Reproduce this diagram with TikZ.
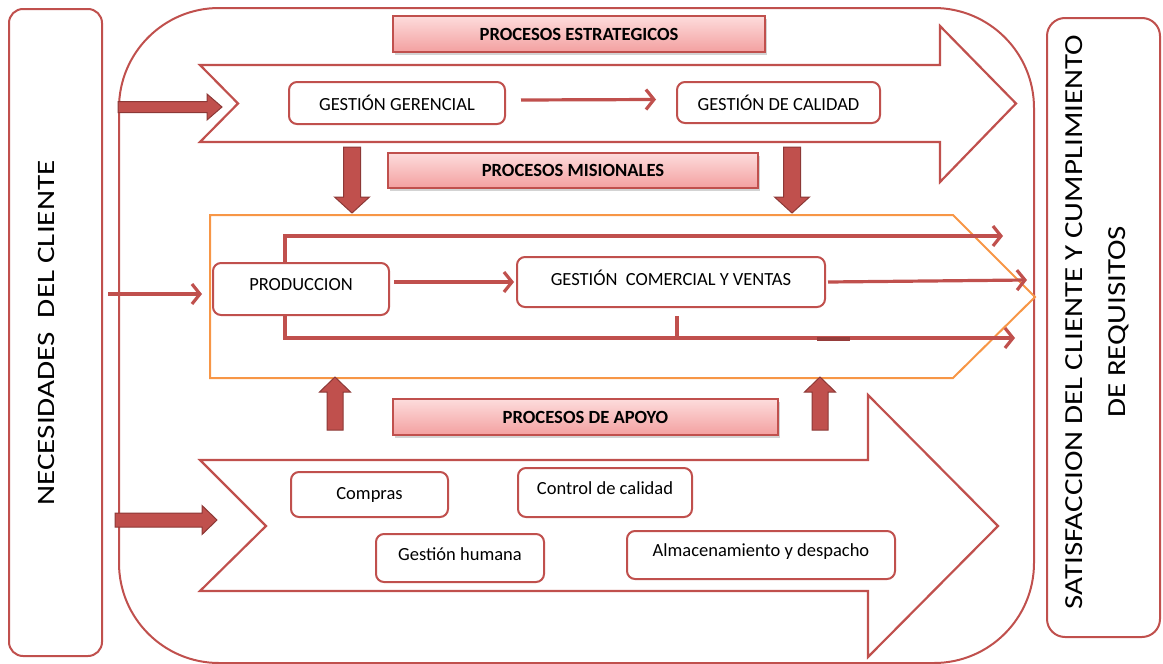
\documentclass[tikz,border=0pt]{standalone}
\usepackage{fontspec}
\setmainfont{Carlito}
\usetikzlibrary{arrows.meta,shadows}
\definecolor{rd}{HTML}{C0504D}
\definecolor{rddark}{HTML}{8C3836}
\definecolor{orng}{HTML}{F79646}
\definecolor{pinktop}{HTML}{FDDCDC}
\definecolor{pinkbot}{HTML}{F3A0A0}
\tikzset{
  frame/.style={draw=rd,line width=2pt,rounded corners=14pt},
  chev/.style={draw=rd,line width=2.2pt,fill=white,line join=miter},
  proc/.style={draw=rd,line width=2pt,rounded corners=8pt,fill=white,font=\fontsize{18.5}{22}\selectfont,inner sep=0pt},
  banner/.style={draw=rd,line width=1.2pt,top color=pinktop,bottom color=pinkbot,
     font=\fontsize{18.6}{22}\selectfont\bfseries,inner sep=0pt,
     drop shadow={opacity=0.35,shadow xshift=2pt,shadow yshift=-2.5pt}},
  conn/.style={draw=rd,line width=3.2pt,-{Straight Barb[length=8pt,width=20pt,line width=3.2pt]}},
  plain/.style={draw=rd,line width=3.2pt},
  block/.style={fill=rd,draw=rddark,line width=1pt,line join=miter},
}
\begin{document}
\begin{tikzpicture}[x=1pt,y=-1pt]
\useasboundingbox (0,0) rectangle (1163,664);
% side boxes
\node[frame,minimum width=93pt,minimum height=647pt] (need) at (55.5,332.5) {};
\node[rotate=90,font=\fontsize{25}{28}\selectfont] (needt) at (46,333) {\scalebox{1.245}[1]{NECESIDADES\ \ DEL CLIENTE}};
\node[frame,rounded corners=18pt,minimum width=113pt,minimum height=619pt] (sat) at (1103.5,327.5) {};
\node[rotate=90,align=center,font=\fontsize{26}{43}\selectfont] (satt) at (1097,322) {\scalebox{1.19}[1]{SATISFACCION DEL CLIENTE Y CUMPLIMIENTO}\\\scalebox{1.19}[1]{DE REQUISITOS}};
% container
\draw[draw=rd,line width=2pt,rounded corners=100pt] (119,8) rectangle (1034,663);
% chevrons
\draw[chev] (200,65) -- (940,65) -- (940,26) -- (1016,103.5) -- (940,182) -- (940,142) -- (200,142) -- (238,103.5) -- cycle;
\draw[chev] (200,460) -- (868,460) -- (868,395) -- (998,526) -- (868,657) -- (868,591) -- (200,591) -- (266,526) -- cycle;
% misionales pentagon
\draw[draw=orng,line width=2pt] (210,215) -- (953,215) -- (1035,297) -- (953,378) -- (210,378) -- cycle;
% process boxes
\node[proc,minimum width=216pt,minimum height=42pt] (GG) at (397,103) {GESTIÓN GERENCIAL};
\node[proc,minimum width=203pt,minimum height=41pt] (GC) at (778.5,102.5) {GESTIÓN DE CALIDAD};
\node[proc,minimum width=176pt,minimum height=52pt,text depth=10pt] (PROD) at (301,289) {PRODUCCION};
\node[proc,minimum width=308pt,minimum height=50pt,text depth=8pt] (GCV) at (671,282) {GESTIÓN\ \ COMERCIAL Y VENTAS};
\node[proc,minimum width=157pt,minimum height=45pt] (COMP) at (369.5,494.5) {Compras};
\node[proc,minimum width=174pt,minimum height=49pt,text depth=9pt] (CTRL) at (605,492.5) {Control de calidad};
\node[proc,minimum width=168pt,minimum height=48pt,text depth=8pt] (GH) at (460,558) {Gestión humana};
\node[proc,minimum width=268pt,minimum height=48pt,text depth=10pt] (ALM) at (761,555) {Almacenamiento y despacho};
% banners
\node[banner,minimum width=372pt,minimum height=36pt] (PE) at (579,34) {PROCESOS ESTRATEGICOS};
\node[banner,minimum width=370pt,minimum height=35pt] (PM) at (573,170.5) {PROCESOS MISIONALES};
\node[banner,minimum width=385pt,minimum height=36pt] (PA) at (585.5,417) {PROCESOS DE APOYO};
% coordinates
\coordinate (inL) at (108,294);
\coordinate (outTop) at (1003,236);
\coordinate (outMid) at (1027,280);
\coordinate (outBot) at (1015,338);
% connectors
\draw[conn] ([xshift=15pt,yshift=3pt]GG.east) -- ([xshift=-20pt,yshift=3pt]GC.west);
\draw[conn,shorten >=10pt] (inL) -- (inL -| PROD.west);
\draw[conn] ([xshift=4pt]PROD.east |- GCV.west) -- ([xshift=-2pt]GCV.west);
\draw[conn] ([xshift=-16pt]PROD.north) |- (outTop);
\draw[conn] ([xshift=2pt]GCV.east) -- (outMid);
\draw[conn] ([xshift=-16pt]PROD.south) |- (outBot);
\draw[plain] ([xshift=6pt,yshift=-8pt]GCV.south) -- ++(0,23);
\draw[draw=rddark!80!rd,line width=3.2pt] (817,339) -- (850,339);
% block arrows: left inputs
\draw[block] (118,101.5) -- (207,101.5) -- (207,94) -- (222,107) -- (207,120) -- (207,112.5) -- (118,112.5) -- cycle;
\draw[block] (115,513) -- (202,513) -- (202,505.5) -- (217,520) -- (202,534.5) -- (202,527) -- (115,527) -- cycle;
% down arrows
\foreach \cx in {352,792}{
  \draw[block] (\cx-8.5,147) -- (\cx+8.5,147) -- (\cx+8.5,197) -- (\cx+17.5,197) -- (\cx,213) -- (\cx-17.5,197) -- (\cx-8.5,197) -- cycle;
}
% up arrows
\foreach \cx in {335,820}{
  \draw[block] (\cx-8,430) -- (\cx+8,430) -- (\cx+8,392) -- (\cx+15.5,392) -- (\cx,377) -- (\cx-15.5,392) -- (\cx-8,392) -- cycle;
}
\end{tikzpicture}
\end{document}
